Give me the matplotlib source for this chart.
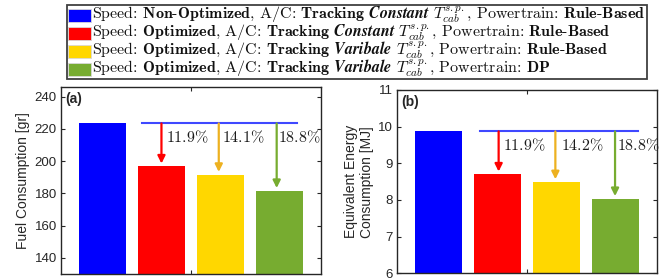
import matplotlib
matplotlib.use('Agg')
import matplotlib.pyplot as plt
from matplotlib.patches import Rectangle

plt.rcParams['mathtext.fontset'] = 'cm'
plt.rcParams['font.family'] = ['Liberation Sans', 'DejaVu Sans']

# ---------------- data ----------------
positions = [1, 2, 3, 4]
fuel = [223.4, 196.8, 191.6, 181.6]
energy = [9.87, 8.70, 8.49, 8.03]
fuel_pct = ['11.9', '14.1', '18.8']
energy_pct = ['11.9', '14.2', '18.8']
fuel_yticks = [140, 160, 180, 200, 220, 240]
energy_yticks = [6, 7, 8, 9, 10, 11]
legend_labels = [
    r'Speed: $\mathbf{Non}$-$\mathbf{Optimized}$, A/C: $\mathbf{Tracking}$ $\mathbfit{Constant}$ $T_{cab}^{s.p.}$, Powertrain: $\mathbf{Rule}$-$\mathbf{Based}$',
    r'Speed: $\mathbf{Optimized}$, A/C: $\mathbf{Tracking}$ $\mathbfit{Constant}$ $T_{cab}^{s.p.}$, Powertrain: $\mathbf{Rule}$-$\mathbf{Based}$',
    r'Speed: $\mathbf{Optimized}$, A/C: $\mathbf{Tracking}$ $\mathbfit{Varibale}$ $T_{cab}^{s.p.}$, Powertrain: $\mathbf{Rule}$-$\mathbf{Based}$',
    r'Speed: $\mathbf{Optimized}$, A/C: $\mathbf{Tracking}$ $\mathbfit{Varibale}$ $T_{cab}^{s.p.}$, Powertrain: $\mathbf{DP}$',
]

colors = ['#0000FF', '#FF0000', '#FFD700', '#77AC30']
arrow_colors = ['#FF0000', '#EDB120', '#77AC30']
line_color = '#3F48FF'
spine_color = '#262626'

W, H = 665, 278
fig = plt.figure(figsize=(W / 100, H / 100), dpi=100)

ax_a = fig.add_axes([61 / W, 1 - 274 / H, 260 / W, 187 / H])
ax_b = fig.add_axes([397 / W, 1 - 273.3 / H, 260 / W, 183.3 / H])


def draw(ax, values, pct, ylim, yticks, ylabel, tag, arrow_x, text_x, text_y, line_x):
    ax.bar(positions, values, width=0.8, color=colors, edgecolor='none', zorder=2)
    top = values[0]
    ax.plot(line_x, [top, top], color=line_color, lw=1.5, zorder=3)
    for i in range(3):
        ax.annotate('', xy=(arrow_x[i], values[i + 1]), xytext=(arrow_x[i], top),
                    arrowprops=dict(arrowstyle='-|>', color=arrow_colors[i], lw=1.6,
                                    mutation_scale=11, shrinkA=0, shrinkB=2), zorder=4)
        ax.text(text_x[i], text_y, r'$' + pct[i] + r'\%$', fontsize=11.5,
                ha='left', va='center', zorder=5, color='#1a1a1a')
    ax.set_xlim(0.3, 4.7)
    ax.set_ylim(*ylim)
    ax.set_xticks([2.5])
    ax.set_xticklabels([''])
    ax.set_yticks(yticks)
    ax.tick_params(direction='in', top=True, right=True, length=3, width=0.8,
                   labelsize=9.5, colors=spine_color, pad=3)
    for s in ax.spines.values():
        s.set_color(spine_color)
        s.set_linewidth(1.0)
    ax.set_ylabel(ylabel, fontsize=10, color=spine_color, labelpad=3)
    ax.text(0.015, 0.975, tag, transform=ax.transAxes, fontsize=10, fontweight='bold',
            ha='left', va='top', color=spine_color)


draw(ax_a, fuel, fuel_pct, (130, 246), fuel_yticks, 'Fuel Consumption [gr]', '(a)',
     [2.0, 2.97, 3.95], [2.07, 3.03, 3.98], 214.8, [1.67, 4.29])
draw(ax_b, energy, energy_pct, (6, 11), energy_yticks,
     'Equivalent Energy\nConsumption [MJ]', '(b)',
     [2.02, 2.98, 3.99], [2.09, 3.07, 4.03], 9.49, [1.71, 4.38])

# ---------------- legend (drawn manually for tight MATLAB-like spacing) ----------------
def fx(px):
    return px / W


def fy(py):
    return 1 - py / H


frame = Rectangle((fx(67), fy(79)), 580 / W, 74 / H, transform=fig.transFigure,
                  facecolor='white', edgecolor='#404040', lw=1.3, zorder=1)
fig.add_artist(frame)
baselines = [19.3, 37.3, 55.3, 73.3]
for i, (lab, c) in enumerate(zip(legend_labels, colors)):
    b = baselines[i]
    fig.add_artist(Rectangle((fx(68.3), fy(b - 4 + 6.3)), 22.4 / W, 12.7 / H,
                             transform=fig.transFigure, facecolor=c,
                             edgecolor='#d8d8d8', lw=0.6, zorder=2))
    fig.text(fx(92), fy(b), lab, fontsize=11.5, family='cmr10', ha='left',
             va='baseline', color='#111111', zorder=3)

fig.savefig('out.png', dpi=100)
